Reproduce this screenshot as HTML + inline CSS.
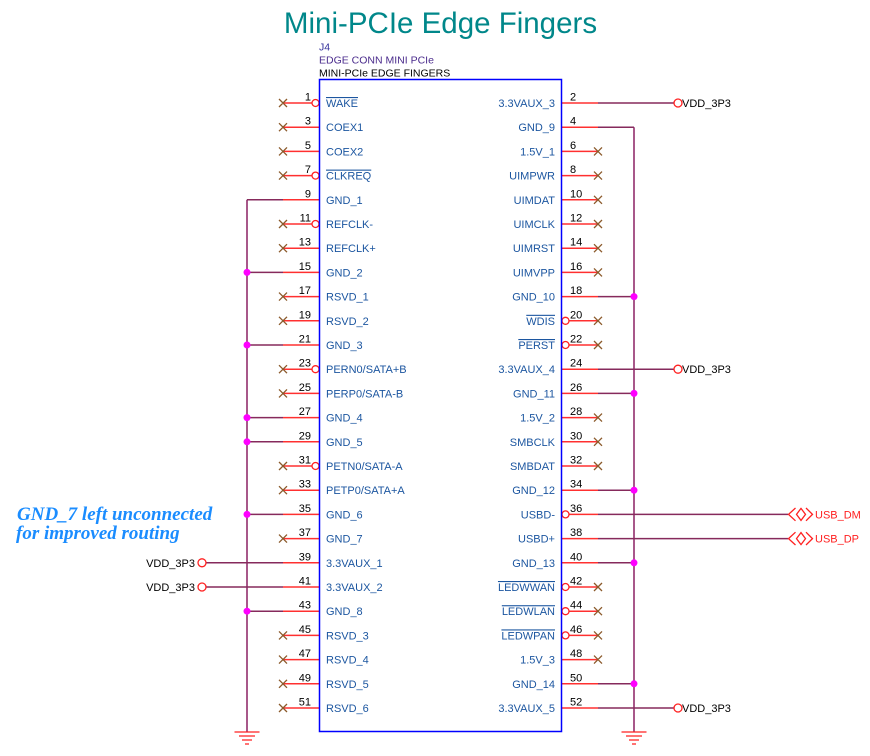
<!DOCTYPE html>
<html><head><meta charset="utf-8"><style>
html,body{margin:0;padding:0;background:#fff;}
svg{display:block;}
text{font-family:"Liberation Sans",Arial,sans-serif;}
.lab{font-size:11px;fill:#1c56a0;}
.num{font-size:11px;fill:#000;}
.net{font-size:11px;fill:#000;}
.ol{text-decoration:overline;}
</style></head><body>
<svg width="870" height="756" viewBox="0 0 870 756" xmlns="http://www.w3.org/2000/svg">
<rect width="870" height="756" fill="#fff"/>
<text x="440.5" y="33" text-anchor="middle" style="font-size:29.5px;fill:#00878a;">Mini-PCIe Edge Fingers</text>
<text x="319" y="50.5" style="font-size:10.5px;fill:#33309a;">J4</text>
<text x="319" y="63.5" style="font-size:10.5px;fill:#4a2b8c;">EDGE CONN MINI PCIe</text>
<text x="319" y="76.5" style="font-size:10.5px;fill:#000;">MINI-PCIe EDGE FINGERS</text>

<!-- annotation -->
<text x="17" y="520" style="font-family:'Liberation Serif',serif;font-weight:bold;font-style:italic;font-size:19px;fill:#1a8cff;">GND_7 left unconnected</text>
<text x="16" y="539" style="font-family:'Liberation Serif',serif;font-weight:bold;font-style:italic;font-size:19px;fill:#1a8cff;">for improved routing</text>

<!-- wires -->
<g stroke="#a8588a" stroke-width="2" fill="none">
<path d="M247 199.8V732 M634 127.2V732"/>
</g>
<g stroke="#862a5c" stroke-width="1.5" fill="none">
<path d="M247 199.8H283 M247 272.4H283 M247 345H283 M247 417.6H283 M247 441.8H283 M247 514.4H283 M247 611.2H283
M206 562.8H283 M206 587H283
M598 127.2H634 M598 296.6H634 M598 393.4H634 M598 490.2H634 M598 562.8H634 M598 683.8H634
M598 103H674 M598 369.2H674 M598 708H674
M598 514.4H788 M598 538.6H788"/>
</g>
<g fill="#ff00ff">
<circle cx="247" cy="272.4" r="3.5"/><circle cx="247" cy="345" r="3.5"/><circle cx="247" cy="417.6" r="3.5"/><circle cx="247" cy="441.8" r="3.5"/><circle cx="247" cy="514.4" r="3.5"/><circle cx="247" cy="611.2" r="3.5"/>
<circle cx="634" cy="296.6" r="3.5"/><circle cx="634" cy="393.4" r="3.5"/><circle cx="634" cy="490.2" r="3.5"/><circle cx="634" cy="562.8" r="3.5"/><circle cx="634" cy="683.8" r="3.5"/>
</g>

<!-- pin lines -->
<g stroke="#ff3030" stroke-width="1.5" fill="none">
<path d="M283 103H312 M283 127.2H319 M283 151.4H319 M283 175.6H312 M283 199.8H319 M283 224H312 M283 248.2H319 M283 272.4H319 M283 296.6H319 M283 320.8H319 M283 345H319 M283 369.2H312 M283 393.4H319 M283 417.6H319 M283 441.8H319 M283 466H312 M283 490.2H319 M283 514.4H319 M283 538.6H319 M283 562.8H319 M283 587H319 M283 611.2H319 M283 635.4H319 M283 659.6H319 M283 683.8H319 M283 708H319"/>
<path d="M562 103H598 M562 127.2H598 M562 151.4H598 M562 175.6H598 M562 199.8H598 M562 224H598 M562 248.2H598 M562 272.4H598 M562 296.6H598 M569 320.8H598 M569 345H598 M562 369.2H598 M562 393.4H598 M562 417.6H598 M562 441.8H598 M562 466H598 M562 490.2H598 M569 514.4H598 M562 538.6H598 M562 562.8H598 M569 587H598 M569 611.2H598 M569 635.4H598 M562 659.6H598 M562 683.8H598 M562 708H598"/>
</g>
<!-- bubbles -->
<g stroke="#ff2020" stroke-width="1.3" fill="#fff">
<circle cx="315.5" cy="103" r="3.5"/><circle cx="315.5" cy="175.6" r="3.5"/><circle cx="315.5" cy="224" r="3.5"/><circle cx="315.5" cy="369.2" r="3.5"/><circle cx="315.5" cy="466" r="3.5"/>
<circle cx="565.5" cy="320.8" r="3.5"/><circle cx="565.5" cy="345" r="3.5"/><circle cx="565.5" cy="514.4" r="3.5"/><circle cx="565.5" cy="587" r="3.5"/><circle cx="565.5" cy="611.2" r="3.5"/><circle cx="565.5" cy="635.4" r="3.5"/>
<circle cx="678" cy="103" r="4"/><circle cx="678" cy="369.2" r="4"/><circle cx="678" cy="708" r="4"/>
<circle cx="202" cy="562.8" r="4"/><circle cx="202" cy="587" r="4"/>
</g>
<!-- no-connect X -->
<g stroke="#8b5a2b" stroke-width="1.3" fill="none">
<path d="M279 99L287 107M279 107L287 99 M279 123.2L287 131.2M279 131.2L287 123.2 M279 147.4L287 155.4M279 155.4L287 147.4 M279 171.6L287 179.6M279 179.6L287 171.6 M279 220L287 228M279 228L287 220 M279 244.2L287 252.2M279 252.2L287 244.2 M279 292.6L287 300.6M279 300.6L287 292.6 M279 316.8L287 324.8M279 324.8L287 316.8 M279 365.2L287 373.2M279 373.2L287 365.2 M279 389.4L287 397.4M279 397.4L287 389.4 M279 462L287 470M279 470L287 462 M279 486.2L287 494.2M279 494.2L287 486.2 M279 534.6L287 542.6M279 542.6L287 534.6 M279 631.4L287 639.4M279 639.4L287 631.4 M279 655.6L287 663.6M279 663.6L287 655.6 M279 679.8L287 687.8M279 687.8L287 679.8 M279 704L287 712M279 712L287 704"/>
<path d="M594 147.4L602 155.4M594 155.4L602 147.4 M594 171.6L602 179.6M594 179.6L602 171.6 M594 195.8L602 203.8M594 203.8L602 195.8 M594 220L602 228M594 228L602 220 M594 244.2L602 252.2M594 252.2L602 244.2 M594 268.4L602 276.4M594 276.4L602 268.4 M594 316.8L602 324.8M594 324.8L602 316.8 M594 341L602 349M594 349L602 341 M594 413.6L602 421.6M594 421.6L602 413.6 M594 437.8L602 445.8M594 445.8L602 437.8 M594 462L602 470M594 470L602 462 M594 583L602 591M594 591L602 583 M594 607.2L602 615.2M594 615.2L602 607.2 M594 631.4L602 639.4M594 639.4L602 631.4 M594 655.6L602 663.6M594 663.6L602 655.6"/>
</g>

<!-- grounds -->
<g stroke="#ff2020" stroke-width="1.3" fill="none">
<path d="M234.5 732H259.5 M239 736H255 M242 740H252 M245 744H249"/>
<path d="M621.5 732H646.5 M626 736H642 M629 740H639 M632 744H636"/>
</g>

<!-- USB ports -->
<g stroke="#ff2020" stroke-width="1.3" fill="none">
<path d="M795.5 508L788.5 514.4L795.5 520.8 M796.5 514.4L801 508.4L805.5 514.4L801 520.4Z M806 508L812.5 514.4L806 520.8"/>
<path d="M795.5 532.2L788.5 538.6L795.5 545 M796.5 538.6L801 532.6L805.5 538.6L801 544.6Z M806 532.2L812.5 538.6L806 545"/>
</g>
<text x="815" y="518.5" style="font-size:11px;fill:#ff2020;">USB_DM</text>
<text x="815" y="542.7" style="font-size:11px;fill:#ff2020;">USB_DP</text>

<text x="682" y="107" class="net">VDD_3P3</text>
<text x="682" y="373.2" class="net">VDD_3P3</text>
<text x="682" y="712" class="net">VDD_3P3</text>
<text x="195" y="566.8" class="net" text-anchor="end">VDD_3P3</text>
<text x="195" y="591" class="net" text-anchor="end">VDD_3P3</text>

<!-- box -->
<rect x="319.5" y="79.5" width="242" height="652" fill="none" stroke="#0000ff" stroke-width="1.5"/>

<!-- left pin numbers -->
<g class="num" text-anchor="end">
<text class="num" x="311" y="100.5">1</text>
<text class="num" x="311" y="124.7">3</text>
<text class="num" x="311" y="148.9">5</text>
<text class="num" x="311" y="173.1">7</text>
<text class="num" x="311" y="197.3">9</text>
<text class="num" x="311" y="221.5">11</text>
<text class="num" x="311" y="245.7">13</text>
<text class="num" x="311" y="269.9">15</text>
<text class="num" x="311" y="294.1">17</text>
<text class="num" x="311" y="318.3">19</text>
<text class="num" x="311" y="342.5">21</text>
<text class="num" x="311" y="366.7">23</text>
<text class="num" x="311" y="390.9">25</text>
<text class="num" x="311" y="415.1">27</text>
<text class="num" x="311" y="439.3">29</text>
<text class="num" x="311" y="463.5">31</text>
<text class="num" x="311" y="487.7">33</text>
<text class="num" x="311" y="511.9">35</text>
<text class="num" x="311" y="536.1">37</text>
<text class="num" x="311" y="560.3">39</text>
<text class="num" x="311" y="584.5">41</text>
<text class="num" x="311" y="608.7">43</text>
<text class="num" x="311" y="632.9">45</text>
<text class="num" x="311" y="657.1">47</text>
<text class="num" x="311" y="681.3">49</text>
<text class="num" x="311" y="705.5">51</text>
</g>
<!-- right pin numbers -->
<g class="num">
<text class="num" x="570" y="100.5">2</text>
<text class="num" x="570" y="124.7">4</text>
<text class="num" x="570" y="148.9">6</text>
<text class="num" x="570" y="173.1">8</text>
<text class="num" x="570" y="197.3">10</text>
<text class="num" x="570" y="221.5">12</text>
<text class="num" x="570" y="245.7">14</text>
<text class="num" x="570" y="269.9">16</text>
<text class="num" x="570" y="294.1">18</text>
<text class="num" x="570" y="318.3">20</text>
<text class="num" x="570" y="342.5">22</text>
<text class="num" x="570" y="366.7">24</text>
<text class="num" x="570" y="390.9">26</text>
<text class="num" x="570" y="415.1">28</text>
<text class="num" x="570" y="439.3">30</text>
<text class="num" x="570" y="463.5">32</text>
<text class="num" x="570" y="487.7">34</text>
<text class="num" x="570" y="511.9">36</text>
<text class="num" x="570" y="536.1">38</text>
<text class="num" x="570" y="560.3">40</text>
<text class="num" x="570" y="584.5">42</text>
<text class="num" x="570" y="608.7">44</text>
<text class="num" x="570" y="632.9">46</text>
<text class="num" x="570" y="657.1">48</text>
<text class="num" x="570" y="681.3">50</text>
<text class="num" x="570" y="705.5">52</text>
</g>

<!-- left labels -->
<g>
<text class="lab ol" x="326" y="107">WAKE</text>
<text class="lab" x="326" y="131.2">COEX1</text>
<text class="lab" x="326" y="155.4">COEX2</text>
<text class="lab ol" x="326" y="179.6">CLKREQ</text>
<text class="lab" x="326" y="203.8">GND_1</text>
<text class="lab" x="326" y="228">REFCLK-</text>
<text class="lab" x="326" y="252.2">REFCLK+</text>
<text class="lab" x="326" y="276.4">GND_2</text>
<text class="lab" x="326" y="300.6">RSVD_1</text>
<text class="lab" x="326" y="324.8">RSVD_2</text>
<text class="lab" x="326" y="349">GND_3</text>
<text class="lab" x="326" y="373.2">PERN0/SATA+B</text>
<text class="lab" x="326" y="397.4">PERP0/SATA-B</text>
<text class="lab" x="326" y="421.6">GND_4</text>
<text class="lab" x="326" y="445.8">GND_5</text>
<text class="lab" x="326" y="470">PETN0/SATA-A</text>
<text class="lab" x="326" y="494.2">PETP0/SATA+A</text>
<text class="lab" x="326" y="518.4">GND_6</text>
<text class="lab" x="326" y="542.6">GND_7</text>
<text class="lab" x="326" y="566.8">3.3VAUX_1</text>
<text class="lab" x="326" y="591">3.3VAUX_2</text>
<text class="lab" x="326" y="615.2">GND_8</text>
<text class="lab" x="326" y="639.4">RSVD_3</text>
<text class="lab" x="326" y="663.6">RSVD_4</text>
<text class="lab" x="326" y="687.8">RSVD_5</text>
<text class="lab" x="326" y="712">RSVD_6</text>
</g>
<!-- right labels -->
<g text-anchor="end">
<text class="lab" x="555" y="107">3.3VAUX_3</text>
<text class="lab" x="555" y="131.2">GND_9</text>
<text class="lab" x="555" y="155.4">1.5V_1</text>
<text class="lab" x="555" y="179.6">UIMPWR</text>
<text class="lab" x="555" y="203.8">UIMDAT</text>
<text class="lab" x="555" y="228">UIMCLK</text>
<text class="lab" x="555" y="252.2">UIMRST</text>
<text class="lab" x="555" y="276.4">UIMVPP</text>
<text class="lab" x="555" y="300.6">GND_10</text>
<text class="lab ol" x="555" y="324.8">WDIS</text>
<text class="lab ol" x="555" y="349">PERST</text>
<text class="lab" x="555" y="373.2">3.3VAUX_4</text>
<text class="lab" x="555" y="397.4">GND_11</text>
<text class="lab" x="555" y="421.6">1.5V_2</text>
<text class="lab" x="555" y="445.8">SMBCLK</text>
<text class="lab" x="555" y="470">SMBDAT</text>
<text class="lab" x="555" y="494.2">GND_12</text>
<text class="lab" x="555" y="518.4">USBD-</text>
<text class="lab" x="555" y="542.6">USBD+</text>
<text class="lab" x="555" y="566.8">GND_13</text>
<text class="lab ol" x="555" y="591">LEDWWAN</text>
<text class="lab ol" x="555" y="615.2">LEDWLAN</text>
<text class="lab ol" x="555" y="639.4">LEDWPAN</text>
<text class="lab" x="555" y="663.6">1.5V_3</text>
<text class="lab" x="555" y="687.8">GND_14</text>
<text class="lab" x="555" y="712">3.3VAUX_5</text>
</g>
</svg>
</body></html>
